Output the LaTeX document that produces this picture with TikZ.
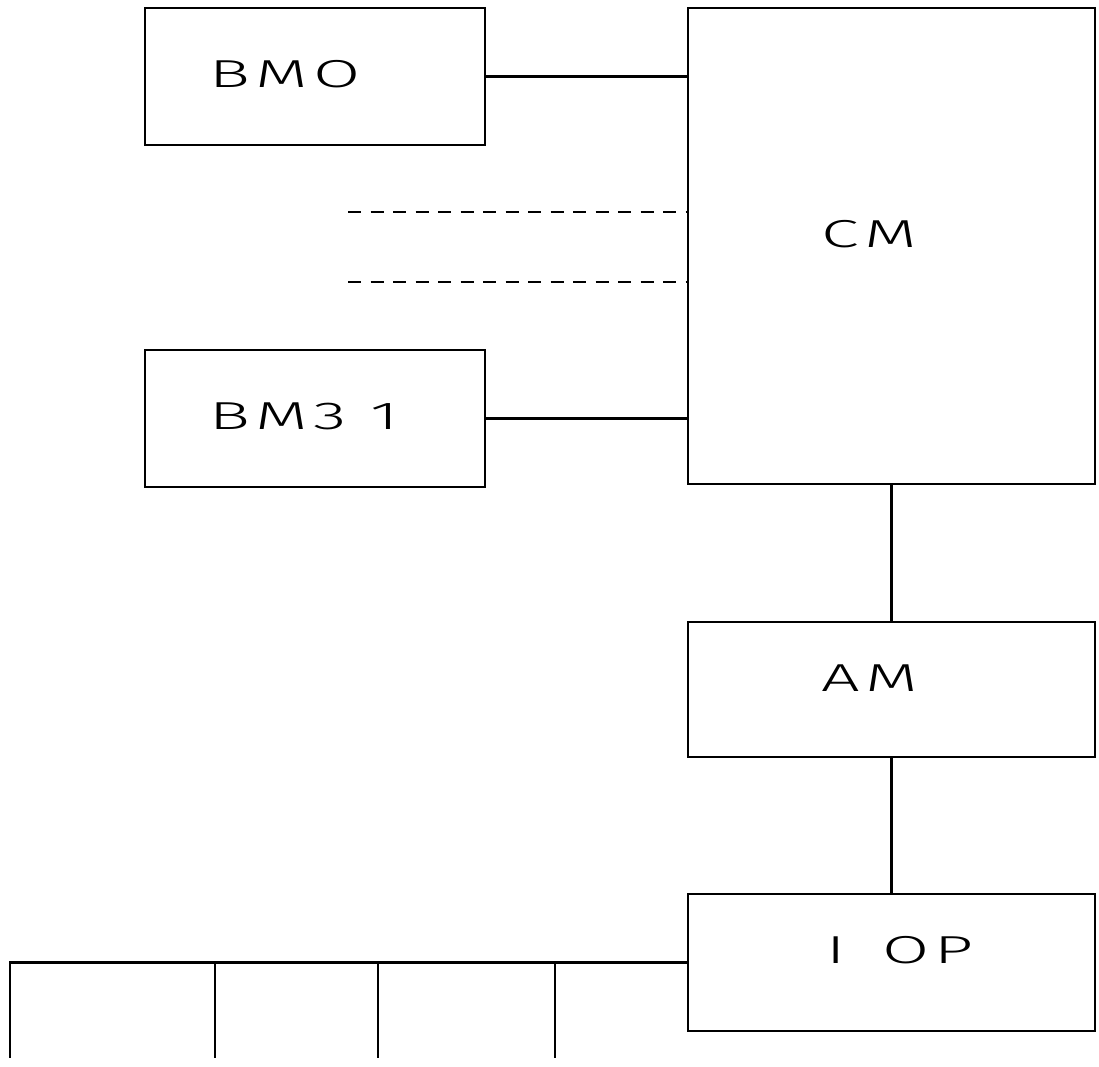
\documentclass[tikz,border=0pt]{standalone}
\usepackage{fontspec}
\IfFontExistsTF{Fira Sans Light}{\newfontfamily\labfont{Fira Sans Light}}{\newfontfamily\labfont{Fira Sans}}
\newcommand\lsp{\kern3pt\relax}
\begin{document}
\begin{tikzpicture}[x=1pt,y=-1pt,
  box/.style={draw, line width=2.8pt, rectangle, inner sep=0pt},
  conn/.style={line width=2.8pt},
  dconn/.style={line width=2.8pt, dash pattern=on 13pt off 9.5pt},
  lab/.style={anchor=west, inner sep=0pt, xscale=1.75, font=\labfont\fontsize{39}{39}\selectfont}]
\useasboundingbox (0,0) rectangle (1099,1066);
\fill[white] (0,0) rectangle (1099,1066);

% boxes
\node[box, minimum width=340pt, minimum height=137pt] (bmo)  at (315,76.5) {};
\node[box, minimum width=340pt, minimum height=137pt] (bm31) at (315,418.5) {};
\node[box, minimum width=407pt, minimum height=476pt] (cm)   at (891.5,246) {};
\node[box, minimum width=407pt, minimum height=135pt] (am)   at (891.5,689.5) {};
\node[box, minimum width=407pt, minimum height=137pt] (iop)  at (891.5,962.5) {};

% labels
\node[lab] (tbmo)  at (209,74)  {B\lsp M\lsp O};
\node[lab] (tbm31) at (209,416) {B\lsp M\lsp 3\kern14pt 1};
\node[lab] (tcm)   at (821,234) {C\lsp M};
\node[lab] (tam)   at (821,678) {A\lsp M};
\node[lab] (tiop)  at (826,950) {I\kern21pt O\lsp P};

% connectors
\draw[conn] (bmo.east) -- (bmo.east -| cm.west);
\draw[conn] (bm31.east) -- (bm31.east -| cm.west);
\coordinate (d1) at (348,212);
\coordinate (d2) at (348,282);
\draw[dconn] (d1) -- (d1 -| cm.west);
\draw[dconn] (d2) -- (d2 -| cm.west);
\draw[conn] (cm.south) -- (am.north);
\draw[conn] (am.south) -- (iop.north);

% bus
\coordinate (b0) at (10,962.5);
\coordinate (b1) at (215,962.5);
\coordinate (b2) at (378,962.5);
\coordinate (b3) at (555,962.5);
\coordinate (e0) at (10,1058);
\coordinate (e1) at (215,1058);
\coordinate (e2) at (378,1058);
\coordinate (e3) at (555,1058);
\draw[conn, line join=miter] (iop.west) -- (b0) -- (e0);
\draw[conn] (b1) -- (e1);
\draw[conn] (b2) -- (e2);
\draw[conn] (b3) -- (e3);
\end{tikzpicture}
\end{document}
